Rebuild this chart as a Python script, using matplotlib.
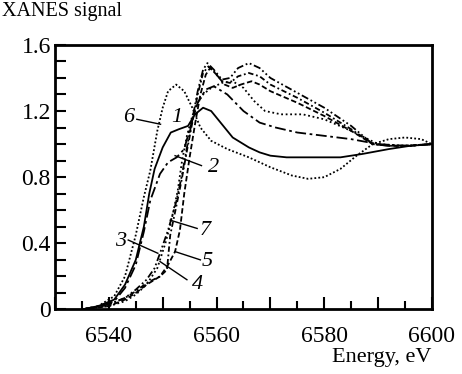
import matplotlib
matplotlib.use("Agg")
import matplotlib.pyplot as plt
from matplotlib.ticker import MultipleLocator, FuncFormatter

plt.rcParams['font.family'] = ['Liberation Serif', 'DejaVu Serif']

# Kurven (Energie in eV, XANES-Signal)
e1 = [6535, 6538, 6541, 6543, 6545, 6546.5, 6547.5, 6548.5, 6550, 6551.5, 6553, 6554.7, 6556,
      6557.5, 6559, 6561, 6563, 6566, 6568, 6570, 6573, 6577, 6583, 6587, 6592, 6596, 6600]
v1 = [0.0, 0.02, 0.06, 0.15, 0.3, 0.5, 0.7, 0.85, 0.98, 1.07, 1.09, 1.11, 1.18,
      1.22, 1.2, 1.12, 1.04, 0.98, 0.95, 0.93, 0.92, 0.92, 0.92, 0.94, 0.97, 0.99, 1.0]

e2 = [6535, 6538, 6541, 6543, 6545, 6546.5, 6547.7, 6549.5, 6551, 6552.6, 6554, 6555.1, 6556.5,
      6558, 6559.5, 6562, 6565, 6568, 6571, 6575, 6580, 6585, 6590, 6595, 6600]
v2 = [0.0, 0.02, 0.05, 0.13, 0.27, 0.47, 0.66, 0.82, 0.89, 0.92, 0.97, 1.1, 1.25,
      1.33, 1.35, 1.3, 1.2, 1.13, 1.1, 1.07, 1.05, 1.03, 1.0, 0.99, 1.0]

e3 = [6535, 6540, 6543, 6545, 6547, 6548.5, 6549.5, 6551, 6552.5, 6553.5, 6554.5, 6555.5,
      6556.5, 6557.5, 6558.3, 6559.5, 6561, 6562.5, 6564, 6566, 6568, 6570, 6575,
      6580, 6585, 6589, 6592, 6596, 6600]
v3 = [0.0, 0.03, 0.07, 0.12, 0.18, 0.25, 0.34, 0.48, 0.65, 0.8, 0.98, 1.15,
      1.32, 1.45, 1.49, 1.45, 1.39, 1.4, 1.46, 1.49, 1.46, 1.4, 1.31,
      1.22, 1.11, 1.0, 0.99, 0.99, 1.0]

e4 = [6535, 6540, 6543, 6545, 6547, 6549.5, 6550.8, 6551.4, 6552.5, 6553.5, 6554.5, 6555.5,
      6556.5, 6557.5, 6558.5, 6559.5, 6561, 6562.5, 6564, 6566, 6568, 6570, 6575,
      6580, 6585, 6589, 6592, 6596, 6600]
v4 = [0.0, 0.03, 0.07, 0.11, 0.16, 0.2, 0.24, 0.45, 0.62, 0.78, 0.96, 1.13,
      1.3, 1.43, 1.47, 1.44, 1.38, 1.37, 1.41, 1.43, 1.41, 1.36, 1.28,
      1.19, 1.09, 1.0, 0.99, 0.99, 1.0]

e5 = [6535, 6540, 6543, 6545, 6547, 6549.5, 6551, 6552.3, 6553.2, 6554, 6555, 6556,
      6557, 6558, 6558.8, 6560, 6561.5, 6563, 6564.5, 6566.5, 6568, 6570, 6575,
      6580, 6585, 6589, 6592, 6596, 6600]
v5 = [0.0, 0.02, 0.06, 0.1, 0.15, 0.2, 0.27, 0.35, 0.48, 0.7, 0.92, 1.12,
      1.3, 1.42, 1.46, 1.42, 1.36, 1.34, 1.36, 1.38, 1.36, 1.32, 1.25,
      1.17, 1.08, 1.0, 0.99, 0.99, 1.0]

e6 = [6535, 6538, 6541, 6543, 6545, 6546.5, 6547.7, 6549, 6550, 6551, 6552.5, 6554, 6555.5,
      6557, 6559, 6562, 6566, 6570, 6574, 6577, 6580, 6583, 6586, 6589, 6592, 6595, 6598, 6600]
v6 = [0.0, 0.02, 0.08, 0.2, 0.45, 0.68, 0.84, 1.08, 1.22, 1.32, 1.36, 1.32, 1.22,
      1.1, 1.02, 0.97, 0.92, 0.86, 0.81, 0.79, 0.8, 0.85, 0.93, 1.0, 1.03, 1.04, 1.03, 1.0]

e7 = [6535, 6540, 6543, 6545, 6547, 6549, 6550.5, 6551.7, 6552.8, 6553.6, 6554.5, 6555.5,
      6556.5, 6557.5, 6559, 6561, 6563, 6565, 6567, 6569, 6572, 6576, 6580, 6585, 6590,
      6595, 6600]
v7 = [0.0, 0.02, 0.05, 0.09, 0.15, 0.25, 0.4, 0.55, 0.72, 0.9, 1.05, 1.17,
      1.25, 1.3, 1.34, 1.37, 1.38, 1.34, 1.26, 1.2, 1.18, 1.18, 1.15, 1.08, 1.0,
      0.99, 1.0]

kurven = [
    (e1, v1, '-'),
    (e2, v2, (0, (6, 2, 1.5, 2))),
    (e3, v3, (0, (4, 1.5, 1, 1.5, 1, 1.5))),
    (e4, v4, (0, (3, 1.5, 1, 1.5))),
    (e5, v5, (0, (3, 1.5))),
    (e6, v6, (0, (1, 1.2))),
    (e7, v7, (0, (1, 1.5))),
]

# Beschriftungen: Text, Textposition, Linie (von, bis)
labels = [
    ('6', (6543.6, 1.16), (6545.2, 1.15), (6549.6, 1.12)),
    ('1', (6552.7, 1.16), None, None),
    ('2', (6559.4, 0.86), (6552.3, 0.93), (6557.2, 0.87)),
    ('7', (6557.9, 0.48), (6551.4, 0.54), (6556.4, 0.49)),
    ('3', (6542.1, 0.41), (6543.6, 0.42), (6549.1, 0.34)),
    ('5', (6558.3, 0.29), (6552.3, 0.35), (6557.0, 0.30)),
    ('4', (6556.4, 0.15), (6549.5, 0.29), (6554.5, 0.18)),
]

fig = plt.figure(figsize=(4.62, 3.74), dpi=100)
ax = fig.add_axes([0.119, 0.1725, 0.816, 0.7075])

for e, v, ls in kurven:
    ax.plot(e, v, color='black', linestyle=ls, linewidth=1.3)

for txt, pos, p0, p1 in labels:
    ax.text(pos[0], pos[1], txt, fontsize=16, style='italic', ha='center', va='center')
    if p0 is not None:
        ax.plot([p0[0], p1[0]], [p0[1], p1[1]], color='black', linewidth=1.0)

ax.set_xlim(6530, 6600)
ax.set_ylim(0, 1.6)
ax.xaxis.set_major_locator(MultipleLocator(10))
ax.xaxis.set_minor_locator(MultipleLocator(5))
ax.xaxis.set_major_formatter(FuncFormatter(lambda x, p: f'{x:.0f}' if round(x) % 20 == 0 else ''))
ax.yaxis.set_major_locator(MultipleLocator(0.4))
ax.yaxis.set_minor_locator(MultipleLocator(0.1))
ax.yaxis.set_major_formatter(FuncFormatter(lambda y, p: '0' if abs(y) < 1e-9 else f'{y:.1f}'))
ax.tick_params(which='both', direction='in', width=1.5, labelsize=17)
ax.tick_params(axis='x', which='major', length=9, pad=12)
ax.tick_params(axis='x', which='minor', length=6)
ax.tick_params(axis='y', which='both', length=8, pad=3)
for s in ax.spines.values():
    s.set_linewidth(2)

fig.text(0.005, 0.995, 'XANES signal', fontsize=14.5, ha='left', va='top')
fig.text(0.935, 0.045, 'Energy, eV', fontsize=16, ha='right', va='center')

fig.savefig('out.png', dpi=100)
